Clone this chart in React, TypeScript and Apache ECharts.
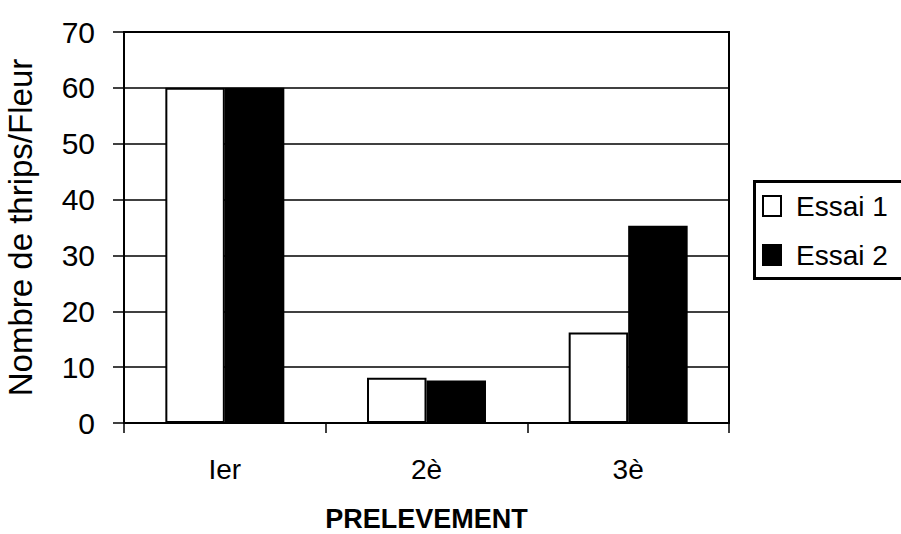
import React, { useEffect, useRef } from "react";
import * as echarts from "echarts";

// Sampling rounds and thrips counts per flower for each trial
const categories = ["Ier", "2è", "3è"];
const essai1 = [60, 8.1, 16.2];
const essai2 = [60, 7.6, 35.3];
const seriesNames = ["Essai 1", "Essai 2"];
const yMin = 0;
const yMax = 70;
const yStep = 10;

const FONT = "'Liberation Sans', Arial, sans-serif";

export default function App() {
  const ref = useRef<HTMLDivElement>(null);

  useEffect(() => {
    if (!ref.current) return;
    const chart = echarts.init(ref.current, undefined, { renderer: "svg" });
    chart.setOption({
      animation: false,
      backgroundColor: "#fff",
      grid: {
        left: 124,
        top: 32,
        right: 172,
        bottom: 111,
        outerBoundsMode: "none",
        containLabel: false,
        show: true,
        borderColor: "#000",
        borderWidth: 2,
      },
      legend: {
        orient: "vertical",
        left: 762,
        top: 192,
        itemWidth: 18,
        itemHeight: 20,
        itemGap: 21,
        padding: 0,
        icon: "rect",
        data: seriesNames,
        textStyle: {
          fontFamily: FONT,
          fontSize: 28,
          color: "#000",
          padding: [0, 0, 0, 10],
        },
      },
      graphic: [
        {
          type: "rect",
          left: 752,
          top: 179,
          shape: { width: 220, height: 97 },
          style: { fill: "none", stroke: "#000", lineWidth: 3 },
        },
      ],
      xAxis: {
        type: "category",
        data: categories,
        name: "PRELEVEMENT",
        nameLocation: "middle",
        nameGap: 82,
        nameTextStyle: {
          fontFamily: FONT,
          fontSize: 27,
          lineHeight: 27,
          fontWeight: "bold",
          color: "#000",
        },
        axisLine: { lineStyle: { color: "#000", width: 2 } },
        axisTick: { show: true, length: 10, lineStyle: { color: "#000", width: 1.5 } },
        axisLabel: {
          fontFamily: FONT,
          fontSize: 28,
          color: "#000",
          margin: 32,
        },
      },
      yAxis: {
        type: "value",
        min: yMin,
        max: yMax,
        interval: yStep,
        name: "Nombre de thrips/Fleur",
        nameLocation: "middle",
        nameRotate: 90,
        nameGap: 87,
        nameTextStyle: {
          fontFamily: FONT,
          fontSize: 33,
          color: "#000",
        },
        axisLine: { show: true, lineStyle: { color: "#000", width: 2 } },
        axisTick: { show: true, length: 11, lineStyle: { color: "#000", width: 1.5 } },
        axisLabel: {
          fontFamily: FONT,
          fontSize: 30,
          color: "#000",
          margin: 29,
        },
        splitLine: { show: true, lineStyle: { color: "#000", width: 1.5 } },
      },
      series: [
        {
          name: seriesNames[0],
          type: "bar",
          data: essai1,
          barGap: "0%",
          barCategoryGap: "41%",
          itemStyle: { color: "#fff", borderColor: "#000", borderWidth: 2 },
        },
        {
          name: seriesNames[1],
          type: "bar",
          data: essai2,
          barGap: "0%",
          barCategoryGap: "41%",
          itemStyle: { color: "#000", borderColor: "#000", borderWidth: 2 },
        },
      ],
    });
    return () => chart.dispose();
  }, []);

  return (
    <div
      ref={ref}
      style={{ position: "fixed", left: 0, top: 0, width: 901, height: 534 }}
    />
  );
}
